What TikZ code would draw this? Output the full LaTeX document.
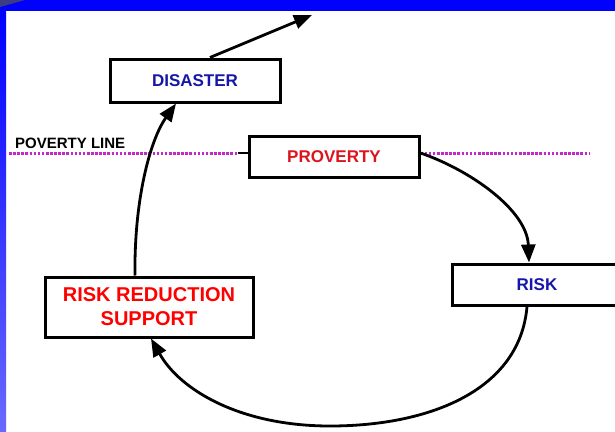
\documentclass[tikz,border=0pt]{standalone}
\usepackage{fontspec}
\setmainfont{Liberation Sans}
\usetikzlibrary{arrows.meta,calc}
\definecolor{frameblue}{RGB}{0,0,255}
\definecolor{framelight}{RGB}{105,105,255}
\definecolor{wedge}{RGB}{60,60,130}
\definecolor{navytext}{RGB}{22,22,168}
\definecolor{darkred}{RGB}{220,20,30}
\definecolor{brightred}{RGB}{255,0,0}
\definecolor{povmagenta}{RGB}{195,40,200}
\begin{document}
\begin{tikzpicture}[x=1pt,y=-1pt,
  box/.style={draw=black,line width=3pt,fill=white,inner sep=0pt,align=center,
              font=\bfseries\fontsize{17}{20}\selectfont},
  conn/.style={line width=2.8pt,-{Triangle[length=18pt,width=14pt]}},
  povline/.style={povmagenta,line width=3pt,dash pattern=on 2.6pt off 1.5pt}]
\useasboundingbox (0,0) rectangle (615,431);
\clip (0,0) rectangle (615,431);
\fill[white] (0,0) rectangle (615,431);
% frame
\fill[frameblue] (0,0) rectangle (615,10.5);
\shade[top color=frameblue,bottom color=framelight] (0,10) rectangle (6,431);
\fill[wedge] (0,0) -- (25,0) .. controls (12,3) .. (0,7) -- cycle;

% poverty line
\coordinate (pl) at (9,153);
\coordinate (pr) at (590,153);
\node[anchor=west,font=\bfseries\fontsize{15}{18}\selectfont,inner sep=0pt] (povlabel) at (15,143.5) {POVERTY LINE};

% nodes
\node[box,minimum width=170pt,minimum height=43pt,text=navytext] (dis) at (195,80.5) {DISASTER};
\node[box,minimum width=170pt,minimum height=41pt,text=darkred] (prov) at (334,156.5) {PROVERTY};
\node[box,minimum width=170pt,minimum height=41pt,text=navytext] (risk) at (537,284.5) {RISK};
\node[box,minimum width=208pt,minimum height=60pt,text=brightred,
      font=\bfseries\fontsize{20}{24}\selectfont] (rrs) at (149,307) {RISK REDUCTION\\SUPPORT};

\draw[povline] (pl) -- (238,153);
\draw[black,line width=1.6pt] (238,153) -- (prov.west |- pl);
\draw[povline] (prov.east |- pl) -- (pr);

% connectors
\coordinate (out) at (312,15);
\draw[conn] ([xshift=15pt]dis.north) -- (out);
\draw[conn] ([yshift=3.5pt]prov.east) .. controls (470,170) and (527,210) .. ([xshift=-8pt]risk.north);
\draw[conn] ([xshift=-10pt]risk.south) .. controls (520,390) and (430,426) .. (330,426)
            .. controls (240,426) and (180,390) .. ([xshift=2pt]rrs.south);
\draw[conn] ([xshift=-14pt]rrs.north) .. controls (134,200) and (150,140) .. ([xshift=-19pt]dis.south);
\end{tikzpicture}
\end{document}
